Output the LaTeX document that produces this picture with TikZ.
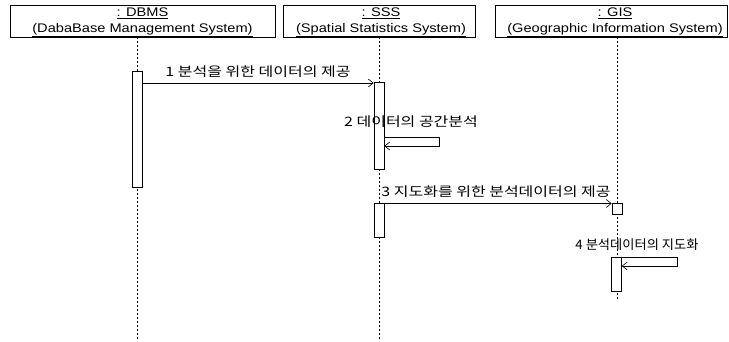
\documentclass[tikz,border=0pt]{standalone}
\usepackage{fontspec}
\setmainfont{Liberation Sans}
\newfontfamily\kr{Noto Sans CJK KR}
\usetikzlibrary{arrows.meta}
\newcommand{\hstr}[1]{\scalebox{1.17}[1]{#1}}
\newcommand{\kstr}[2][1.23]{\scalebox{#1}[1]{\kr #2}}
\begin{document}
\begin{tikzpicture}[x=1pt,y=-1pt,
  font=\fontsize{12.5}{15}\selectfont,
  obj/.style={draw, line width=0.6pt, inner sep=0pt, minimum height=32pt},
  objtxt/.style={inner sep=0pt, align=center, font=\fontsize{12.5}{15.5}\selectfont},
  act/.style={draw, line width=0.6pt, fill=white, minimum width=10pt, inner sep=0pt},
  life/.style={line width=0.6pt, dash pattern=on 2pt off 2pt},
  msg/.style={line width=0.6pt, -{Straight Barb[length=5pt,width=8pt]}},
  lbl/.style={inner sep=0pt, font=\fontsize{13}{15}\selectfont}]
\useasboundingbox (0,0) rectangle (729,341);
\fill[white] (0,0) rectangle (729,341);
% objects
\node[obj, minimum width=265pt] (dbms) at (142.5,21) {};
\node[obj, minimum width=192pt] (sss) at (379,21) {};
\node[obj, minimum width=232pt] (gis) at (611.5,21) {};
\node[objtxt] (dbmst) at (142.5,22.5) {\hstr{\underline{: DBMS}}\\\hstr{\underline{(DabaBase Management System)}}};
\node[objtxt] (ssst) at (381,22.5) {\hstr{\underline{: SSS}}\\\hstr{\underline{(Spatial Statistics System)}}};
\node[objtxt] (gist) at (615,22.5) {\hstr{\underline{: GIS}}\\\hstr{\underline{(Geographic Information System)}}};
% lifeline ends
\coordinate (e1) at (137,340);
\coordinate (e2) at (379,340);
\coordinate (e3) at (617,300);
\draw[life] (dbms.south -| e1) -- (e1);
\draw[life] (sss.south -| e2) -- (e2);
\draw[life] (gis.south -| e3) -- (e3);
% activations
\node[act, minimum height=116pt] (a1) at (137,129) {};
\node[act, minimum height=87pt] (a2) at (379,126) {};
\node[act, minimum height=34pt] (a3) at (379,220) {};
\node[act, minimum height=11pt] (a4) at (617,208.5) {};
\node[act, minimum height=34pt] (a5) at (616.5,274) {};
% labels
\node[lbl] (l1) at (258,72) {\kstr{1 분석을 위한 데이터의 제공}};
\node[lbl] (l2) at (411,122) {\kstr{2 데이터의 공간분석}};
\node[lbl] (l3) at (496,192) {\kstr{3 지도화를 위한 분석데이터의 제공}};
\node[lbl] (l4) at (637,245) {\kstr[1.02]{4 분석데이터의 지도화}};
% messages
\draw[msg] (a1.east |- 0,83) -- (a2.west |- 0,83);
\coordinate (s2a) at (439,137);
\coordinate (s2b) at (439,146);
\draw[msg] (a2.east |- s2a) -- (s2a) -- (s2b) -- (a2.east |- s2b);
\draw[msg] (a3.east |- 0,203.5) -- (a4.west |- 0,203.5);
\coordinate (s4a) at (677,257.5);
\coordinate (s4b) at (677,266);
\draw[msg] (a5.east |- s4a) -- (s4a) -- (s4b) -- (a5.east |- s4b);
\end{tikzpicture}
\end{document}
